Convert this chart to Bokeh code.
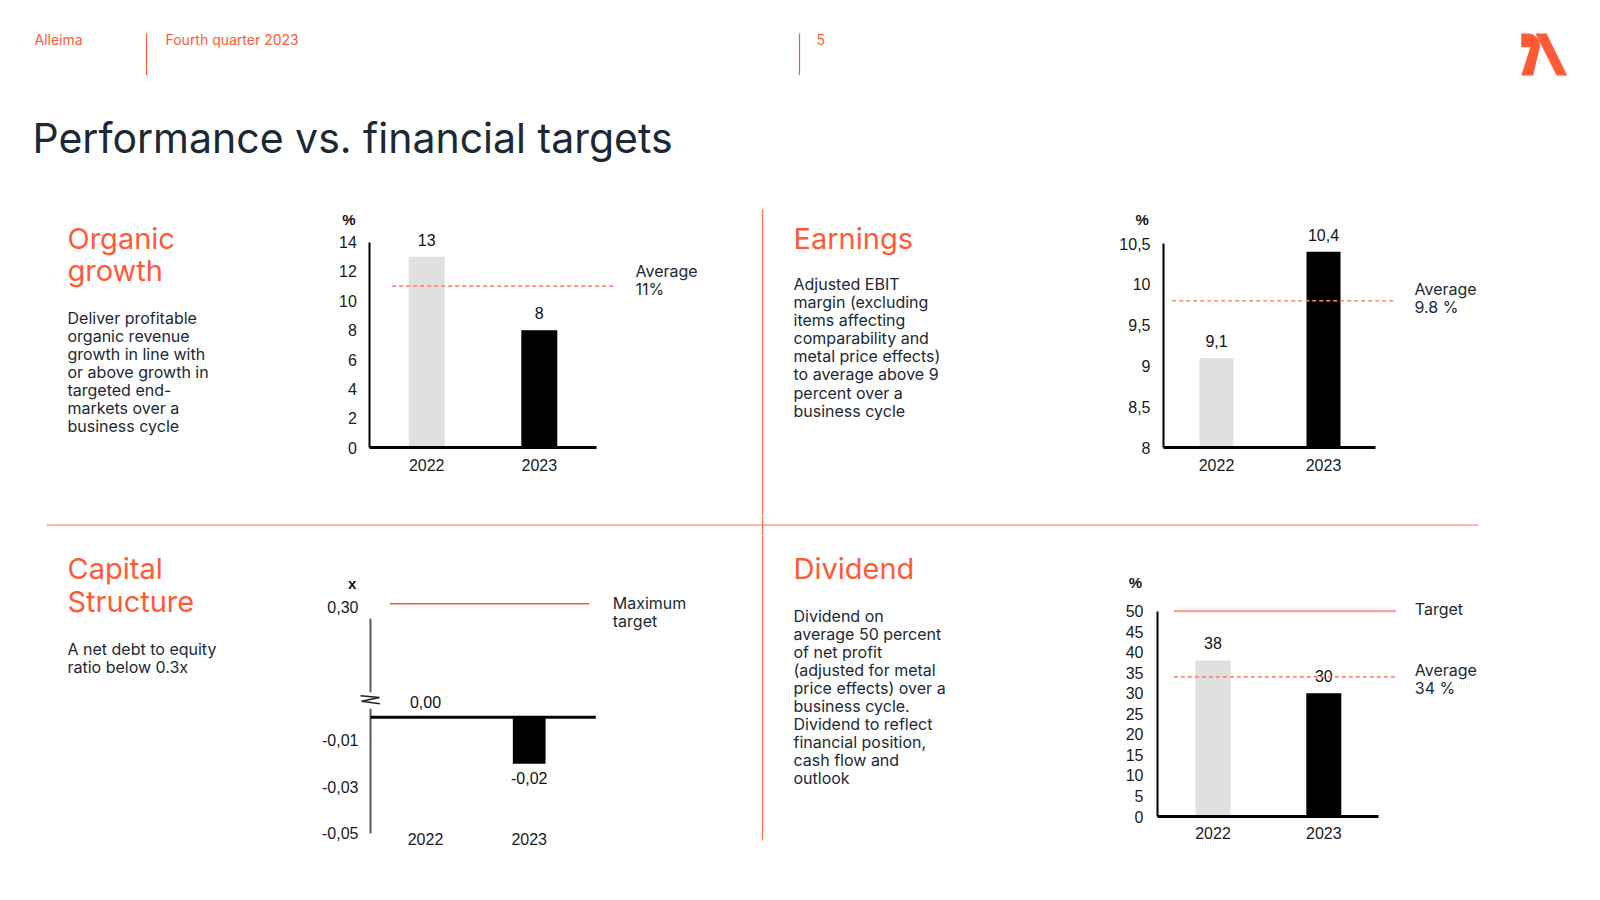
from bokeh.plotting import figure
from bokeh.layouts import column, row
from bokeh.models import Range1d, FixedTicker, CustomJSTickFormatter
from bokeh.core.properties import value
from bokeh.embed import file_html
from bokeh.resources import INLINE

# ---------------- data ----------------
years = ["2022", "2023"]
year_pos = [0, 1]

organic_growth = [13, 8]          # %
organic_avg = 11
organic_ticks = [0, 2, 4, 6, 8, 10, 12, 14]

ebit_margin = [9.1, 10.4]         # %
ebit_avg = 9.8
ebit_ticks = [8, 8.5, 9, 9.5, 10, 10.5]

net_debt_equity = [0.00, -0.02]   # x
nde_max_target = 0.30
nde_ticks = [-0.05, -0.03, -0.01]

dividend_payout = [38, 30]        # %
dividend_target = 50
dividend_avg = 34
dividend_ticks = [0, 5, 10, 15, 20, 25, 30, 35, 40, 45, 50]

# ---------------- style ----------------
ORANGE = "#FF5A36"
DARK = "#1B2935"
BAR_COLORS = ["#E0E0E0", "#000000"]
AVG_COLOR = "#F68B77"
TARGET_LIGHT = "#FAA594"
TARGET_RED = "#F05C3C"
DIVIDER = "#FF7052"
SANS = "Inter"
NUM = "Liberation Sans"
LABEL_LH = 0.9


def base_fig(w, h, **kw):
    p = figure(width=w, height=h, output_backend="svg", toolbar_location=None,
               min_border=0, **kw)
    p.grid.visible = False
    p.outline_line_color = None
    p.background_fill_color = "white"
    p.border_fill_color = "white"
    return p


def text_fig(w, h, ox, oy):
    return base_fig(w, h, x_range=Range1d(ox, ox + w), y_range=Range1d(oy + h, oy),
                    x_axis_location=None, y_axis_location=None)


def put_text(p, x, y, lines, size, color, font=SANS, step=None):
    if isinstance(lines, str):
        lines = [lines]
    ys = [y + i * (step or 0) for i in range(len(lines))]
    p.text(x=[x] * len(lines), y=ys, text=lines, text_font=value(font),
           text_font_size=f"{size}px", text_color=color, text_baseline="middle",
           text_align="left")


def chart_fig(w, h, ox, oy, x0_px, sx, y0_px, y0_val, sy):
    px2x = lambda q: (q - x0_px) / sx
    py2y = lambda q: y0_val + (y0_px - q) / sy
    p = base_fig(w, h, x_range=Range1d(px2x(ox), px2x(ox + w)),
                 y_range=Range1d(py2y(oy + h), py2y(oy)))
    return p, px2x, py2y


def style_axes(p, yticks, y_loc, x_loc, ybounds, xbounds, y_standoff, x_standoff,
               x_line=True, y_line=True):
    xa, ya = p.xaxis[0], p.yaxis[0]
    for a in (xa, ya):
        a.major_tick_line_color = None
        a.minor_tick_line_color = None
        a.major_tick_out = 0
        a.major_tick_in = 0
        a.minor_tick_out = 0
        a.major_label_text_font = NUM
        a.major_label_text_font_size = "16px"
        a.major_label_text_color = "#1a1a1a"
    xa.fixed_location = x_loc
    ya.fixed_location = y_loc
    xa.ticker = FixedTicker(ticks=year_pos)
    xa.major_label_overrides = {i: y for i, y in zip(year_pos, years)}
    xa.major_label_standoff = x_standoff
    ya.ticker = FixedTicker(ticks=yticks)
    ya.major_label_standoff = y_standoff
    if x_line:
        xa.axis_line_color = "black"
        xa.axis_line_width = 3
        xa.bounds = xbounds
    else:
        xa.axis_line_color = None
    if y_line:
        ya.axis_line_color = "black"
        ya.axis_line_width = 2
        ya.bounds = ybounds
    else:
        ya.axis_line_color = None


def bars(p, tops, bottoms, width):
    p.vbar(x=year_pos, top=tops, bottom=bottoms, width=width,
           fill_color=BAR_COLORS, line_color=None)


def value_labels(p, xs, ys, labels, above=True, off=11):
    p.text(x=xs, y=ys, text=labels, text_align="center",
           text_baseline="bottom" if above else "top",
           y_offset=-off if above else off,
           text_font=value(NUM), text_font_size="16px", text_color="#111111")


def side_label(p, x, y, txt):
    p.text(x=[x], y=[y], text=[txt], text_align="left", text_baseline="middle",
           text_font=value(SANS), text_font_size="16px", text_color=DARK,
           text_line_height=LABEL_LH)


def unit_label(p, x, y, txt):
    p.text(x=[x], y=[y], text=[txt], text_align="center", text_baseline="middle",
           text_font=value(NUM), text_font_size="15px", text_font_style="bold",
           text_color="#111111")


def comma(v, nd):
    return f"{v:.{nd}f}".replace(".", ",")


# ---------------- header ----------------
W = 1584
header = text_fig(W, 200, 0, 0)
put_text(header, 34, 39, "Alleima", 14, ORANGE)
put_text(header, 165, 39, "Fourth quarter 2023", 14, ORANGE)
put_text(header, 816, 39, "5", 14, ORANGE)
header.segment(x0=[146, 799], y0=[33, 33], x1=[146, 799], y1=[74.5, 74.5],
               line_color=ORANGE, line_width=1.2)
put_text(header, 32, 137, "Performance vs. financial targets", 41, DARK)
# logo
lx, ly, lw, lh = 1520.7, 33.0, 46.0, 42.0
left_piece = [(0, 0), (0.17, 0), (0.27, 0.03), (0.35, 0.1), (0.4, 0.2), (0.41, 0.3),
              (0.26, 1.0), (0.0, 1.0), (0.2, 0.33), (0.0, 0.33)]
right_piece = [(0.31, 0), (0.55, 0), (1.0, 1.0), (0.77, 1.0)]
header.patches(xs=[[lx + u * lw for u, v in pc] for pc in (left_piece, right_piece)],
               ys=[[ly + v * lh for u, v in pc] for pc in (left_piece, right_piece)],
               fill_color=ORANGE, line_color=None)

# ---------------- top row ----------------
q1t = text_fig(300, 315, 0, 200)
put_text(q1t, 67, 237.8, ["Organic", "growth"], 29, ORANGE, step=32.6)
put_text(q1t, 67, 317.3, ["Deliver profitable", "organic revenue", "growth in line with",
                          "or above growth in", "targeted end-", "markets over a",
                          "business cycle"], 16, DARK, step=18.03)

# chart 1: organic growth
c1, px2x, py2y = chart_fig(455, 315, 300, 200, 426.2, 112.6, 447.3, 0, 14.7)
ax = px2x(369.3)
style_axes(c1, organic_ticks, ax, 0, (0, organic_ticks[-1]), (ax, px2x(595.7)), 13, 11)
bars(c1, organic_growth, [0, 0], 36 / 112.6)
value_labels(c1, year_pos, organic_growth, [str(v) for v in organic_growth])
c1.segment(x0=[px2x(391.7)], x1=[px2x(615)], y0=[organic_avg], y1=[organic_avg],
           line_color=AVG_COLOR, line_width=1.6, line_dash="4 3")
side_label(c1, px2x(635), py2y(279), f"Average\n{organic_avg}%")
unit_label(c1, px2x(348.3), py2y(219), "%")

q2t = text_fig(325, 315, 755, 200)
q2t.segment(x0=[762], x1=[762], y0=[209], y1=[515], line_color=DIVIDER, line_width=1.2)
put_text(q2t, 793, 237.8, "Earnings", 29, ORANGE)
put_text(q2t, 793, 283.7, ["Adjusted EBIT", "margin (excluding", "items affecting",
                           "comparability and", "metal price effects)", "to average above 9",
                           "percent over a", "business cycle"], 16, DARK, step=18.05)

# chart 2: earnings
c2, px2x, py2y = chart_fig(504, 315, 1080, 200, 1216, 107, 447.3, 8, 81.7)
ax = px2x(1163)
style_axes(c2, ebit_ticks, ax, 8, (8, ebit_ticks[-1]), (ax, px2x(1375)), 13, 11)
c2.yaxis[0].formatter = CustomJSTickFormatter(code="return tick.toString().replace('.', ',')")
bars(c2, ebit_margin, [8, 8], 34 / 107)
value_labels(c2, year_pos, ebit_margin, [comma(v, 1) for v in ebit_margin])
c2.segment(x0=[px2x(1171.7)], x1=[px2x(1395)], y0=[ebit_avg], y1=[ebit_avg],
           line_color=AVG_COLOR, line_width=1.6, line_dash="4 3")
side_label(c2, px2x(1414), py2y(297.5), f"Average\n{ebit_avg} %")
unit_label(c2, px2x(1141.7), py2y(219), "%")

# ---------------- middle divider ----------------
mid = text_fig(W, 20, 0, 515)
mid.segment(x0=[46, 762], x1=[1478, 762], y0=[524.5, 515], y1=[524.5, 535],
            line_color=DIVIDER, line_width=1.2)

# ---------------- bottom row ----------------
q3t = text_fig(300, 349, 0, 535)
put_text(q3t, 67, 568.4, ["Capital", "Structure"], 29, ORANGE, step=33)
put_text(q3t, 67, 648, ["A net debt to equity", "ratio below 0.3x"], 16, DARK, step=18.3)

# chart 3: capital structure (broken axis above zero)
target_display = 0.0475   # position at which 0.30 is drawn above the axis break
c3, px2x, py2y = chart_fig(455, 349, 300, 535, 425, 103.7, 716.7, 0, 2325)
ax = px2x(370)
style_axes(c3, nde_ticks + [target_display], ax, nde_ticks[0], None, None, 12, 0,
           x_line=False, y_line=False)
c3.yaxis[0].formatter = CustomJSTickFormatter(code="return tick.toFixed(2).replace('.', ',')")
c3.yaxis[0].major_label_overrides = {target_display: comma(nde_max_target, 2)}
c3.segment(x0=[ax, ax], x1=[ax, ax], y0=[py2y(618.3), py2y(708.3)],
           y1=[py2y(691.7), nde_ticks[0]], line_color="#5A5A5A", line_width=2)
c3.line(x=[px2x(360), px2x(379), px2x(361), px2x(379.5)],
        y=[py2y(695.2), py2y(697.0), py2y(700.8), py2y(703.2)],
        line_color="#222222", line_width=1.6)
c3.segment(x0=[ax], x1=[px2x(595.3)], y0=[0], y1=[0], line_color="black", line_width=3)
bars(c3, [max(v, 0) for v in net_debt_equity], [min(v, 0) for v in net_debt_equity],
     32.7 / 103.7)
value_labels(c3, [0], [max(net_debt_equity[0], 0)], [comma(net_debt_equity[0], 2)], off=9)
value_labels(c3, [1], [net_debt_equity[1]], [comma(net_debt_equity[1], 2)], above=False, off=8)
c3.segment(x0=[px2x(389.3)], x1=[px2x(588.7)], y0=[py2y(603.3)], y1=[py2y(603.3)],
           line_color=TARGET_RED, line_width=1.6)
side_label(c3, px2x(612.3), py2y(611.7), "Maximum\ntarget")
unit_label(c3, px2x(351.7), py2y(583), "x")

q4t = text_fig(325, 349, 755, 535)
q4t.segment(x0=[762], x1=[762], y0=[535], y1=[840], line_color=DIVIDER, line_width=1.2)
put_text(q4t, 793, 568.4, "Dividend", 29, ORANGE)
put_text(q4t, 793, 615.3, ["Dividend on", "average 50 percent", "of net profit",
                           "(adjusted for metal", "price effects) over a", "business cycle.",
                           "Dividend to reflect", "financial position,", "cash flow and",
                           "outlook"], 16, DARK, step=18.03)

# chart 4: dividend
c4, px2x, py2y = chart_fig(504, 349, 1080, 535, 1212.5, 110.8, 816, 0, 4.107)
ax = px2x(1157)
style_axes(c4, dividend_ticks, ax, 0, (0, dividend_ticks[-1]), (ax, px2x(1378.3)), 14, 10)
bars(c4, dividend_payout, [0, 0], 35 / 110.8)
value_labels(c4, year_pos, dividend_payout, [str(v) for v in dividend_payout])
c4.segment(x0=[px2x(1173.3)], x1=[px2x(1395.7)], y0=[dividend_target], y1=[dividend_target],
           line_color=TARGET_LIGHT, line_width=2.4)
c4.segment(x0=[px2x(1173.3)], x1=[px2x(1395.7)], y0=[dividend_avg], y1=[dividend_avg],
           line_color=AVG_COLOR, line_width=1.6, line_dash="4 3")
side_label(c4, px2x(1414.3), py2y(608.3), "Target")
side_label(c4, px2x(1414.3), py2y(678), f"Average\n{dividend_avg} %")
unit_label(c4, px2x(1135), py2y(582.3), "%")

layout = column(header,
                row(q1t, c1, q2t, c2, spacing=0),
                mid,
                row(q3t, c3, q4t, c4, spacing=0),
                spacing=0)

open("out.html", "w").write(file_html(layout, INLINE))
